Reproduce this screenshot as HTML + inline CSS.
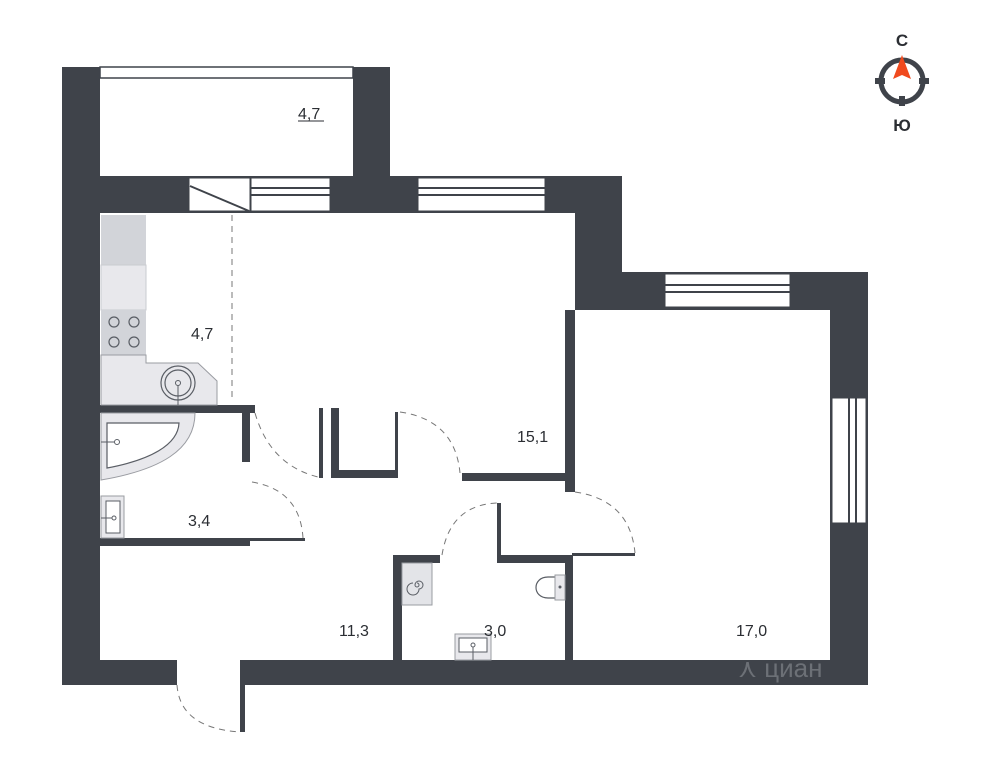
<!DOCTYPE html>
<html><head><style>
html,body{margin:0;padding:0;background:#fff;}
svg{display:block;}
text{font-family:"Liberation Sans",sans-serif;fill:#2b2e33;}
</style></head><body>
<svg width="991" height="767" viewBox="0 0 991 767" xmlns="http://www.w3.org/2000/svg">
<g fill="#3f434a">
<rect x="62" y="67" width="38" height="618"/>
<rect x="353" y="67" width="37" height="146"/>
<rect x="62" y="176" width="560" height="37"/>
<rect x="575" y="176" width="47" height="134"/>
<rect x="575" y="272" width="293" height="38"/>
<rect x="830" y="272" width="38" height="413"/>
<rect x="62" y="660" width="115" height="25"/>
<rect x="245" y="660" width="623" height="25"/>
<rect x="240" y="660" width="5" height="72"/>
<rect x="565" y="310" width="10" height="182"/>
<rect x="100" y="405" width="155" height="8"/>
<rect x="242" y="405" width="8" height="57"/>
<rect x="100" y="538" width="150" height="8"/>
<rect x="250" y="538" width="55" height="3"/>
<rect x="319" y="408" width="4" height="70"/>
<rect x="331" y="408" width="8" height="70"/>
<rect x="331" y="470" width="67" height="8"/>
<rect x="395" y="412" width="3" height="66"/>
<rect x="462" y="473" width="106" height="8"/>
<rect x="393" y="555" width="9" height="105"/>
<rect x="393" y="555" width="47" height="8"/>
<rect x="497" y="503" width="4" height="60"/>
<rect x="497" y="555" width="76" height="8"/>
<rect x="565" y="555" width="8" height="105"/>
<rect x="572" y="553" width="63" height="3"/>
</g>
<rect x="100" y="67" width="253" height="11" fill="#fff" stroke="#3f434a" stroke-width="1.5"/>
<rect x="189" y="178" width="61" height="33" fill="#fff" stroke="#3f434a" stroke-width="1"/>
<line x1="190" y1="186" x2="249" y2="211" stroke="#3f434a" stroke-width="2"/>
<g fill="#fff" stroke="#3f434a" stroke-width="1">
<rect x="251" y="178" width="79" height="33"/>
<line x1="251" y1="188" x2="330" y2="188" stroke-width="2"/><line x1="251" y1="195" x2="330" y2="195" stroke-width="2"/>
<rect x="418" y="178" width="127" height="33"/>
<line x1="418" y1="188" x2="545" y2="188" stroke-width="2"/><line x1="418" y1="195" x2="545" y2="195" stroke-width="2"/>
<rect x="665" y="274" width="125" height="33"/>
<line x1="665" y1="285" x2="790" y2="285" stroke-width="2"/><line x1="665" y1="292" x2="790" y2="292" stroke-width="2"/>
<rect x="832" y="398" width="34" height="125"/>
<line x1="849" y1="398" x2="849" y2="523" stroke-width="2"/><line x1="856" y1="398" x2="856" y2="523" stroke-width="2"/>
</g>
<rect x="101" y="215" width="45" height="50" fill="#d2d4d9"/>
<rect x="101" y="265" width="45" height="45" fill="#e8e8ec" stroke="#c9cbd0" stroke-width="1"/>
<rect x="101" y="310" width="45" height="45" fill="#d2d4d9"/>
<g fill="none" stroke="#5a5e65" stroke-width="1.2">
<circle cx="114" cy="322" r="5"/><circle cx="134" cy="322" r="5"/><circle cx="114" cy="342" r="5"/><circle cx="134" cy="342" r="5"/>
</g>
<path d="M101 355 H146 V363 H198 L217 381 V405 H101 Z" fill="#e8e8ec" stroke="#9a9ca2" stroke-width="1"/>
<circle cx="178" cy="383" r="17" fill="none" stroke="#5a5e65" stroke-width="1.2"/>
<circle cx="178" cy="383" r="13" fill="none" stroke="#5a5e65" stroke-width="1.2"/>
<circle cx="178" cy="383" r="2.5" fill="none" stroke="#5a5e65"/>
<line x1="178" y1="385" x2="178" y2="405" stroke="#5a5e65"/>
<line x1="232" y1="215" x2="232" y2="400" stroke="#777" stroke-dasharray="6 5"/>
<path d="M101 413 H195 C195 450 160 470 101 480 Z" fill="#e8e8ec" stroke="#9a9ca2"/>
<path d="M107 423 H179 C178 445 150 460 107 468 Z" fill="#fff" stroke="#5a5e65" stroke-width="1.2"/>
<circle cx="117" cy="442" r="2.5" fill="none" stroke="#5a5e65"/><line x1="101" y1="442" x2="114" y2="442" stroke="#5a5e65"/>
<rect x="101" y="496" width="23" height="42" fill="#e8e8ec" stroke="#9a9ca2"/>
<rect x="106" y="501" width="14" height="32" fill="#fff" stroke="#5a5e65"/>
<circle cx="114" cy="518" r="2" fill="none" stroke="#5a5e65"/><line x1="101" y1="518" x2="112" y2="518" stroke="#5a5e65"/>
<rect x="402" y="563" width="30" height="42" fill="#e3e4e8" stroke="#9a9ca2"/>
<path d="M417 584 m0 -1 a2 2 0 1 1 -2 2 a4 4 0 1 1 4 4 a6 6 0 1 1 -6 -6" fill="none" stroke="#5a5e65" stroke-width="1"/>
<path d="M563 577 H548 C532 577 532 598 548 598 H563 Z" fill="#fff" stroke="#5a5e65" stroke-width="1.2"/>
<rect x="555" y="575" width="10" height="25" fill="#e8e8ec" stroke="#9a9ca2"/>
<circle cx="560" cy="587" r="1.5" fill="#5a5e65"/>
<rect x="455" y="634" width="36" height="26" fill="#e8e8ec" stroke="#9a9ca2"/>
<rect x="459" y="638" width="28" height="14" fill="#fff" stroke="#5a5e65"/>
<circle cx="473" cy="645" r="2" fill="none" stroke="#5a5e65"/><line x1="473" y1="647" x2="473" y2="660" stroke="#5a5e65"/>
<g fill="none" stroke="#777" stroke-dasharray="6 5" stroke-width="1">
<path d="M255 413 Q270 465 318 477"/>
<path d="M252 482 Q300 490 303 538"/>
<path d="M400 412 Q455 420 460 473"/>
<path d="M442 555 Q450 505 497 503"/>
<path d="M575 492 Q630 500 635 553"/>
<path d="M177 685 Q180 728 240 732"/>
</g>
<g font-size="16">
<text x="298" y="119">4,7</text>
<line x1="298" y1="121" x2="324" y2="121" stroke="#2b2e33" stroke-width="1"/>
<text x="191" y="339">4,7</text>
<text x="188" y="526">3,4</text>
<text x="517" y="442">15,1</text>
<text x="339" y="636">11,3</text>
<text x="484" y="636">3,0</text>
<text x="736" y="636">17,0</text>
</g>
<text x="738" y="677" font-size="26" style="fill:#9a9da3" opacity="0.5">⋏ циан</text>
<g>
<circle cx="902" cy="81" r="21" fill="none" stroke="#3f434a" stroke-width="5"/>
<rect x="875" y="78" width="10" height="6" fill="#3f434a"/>
<rect x="919" y="78" width="10" height="6" fill="#3f434a"/>
<rect x="899" y="96" width="6" height="10" fill="#3f434a"/>
<path d="M902 55 L893 79 L902 75 L911 79 Z" fill="#f04a1e"/>
<text x="902" y="46" font-size="17" font-weight="bold" text-anchor="middle">С</text>
<text x="902" y="131" font-size="17" font-weight="bold" text-anchor="middle">Ю</text>
</g>
</svg>
</body></html>
